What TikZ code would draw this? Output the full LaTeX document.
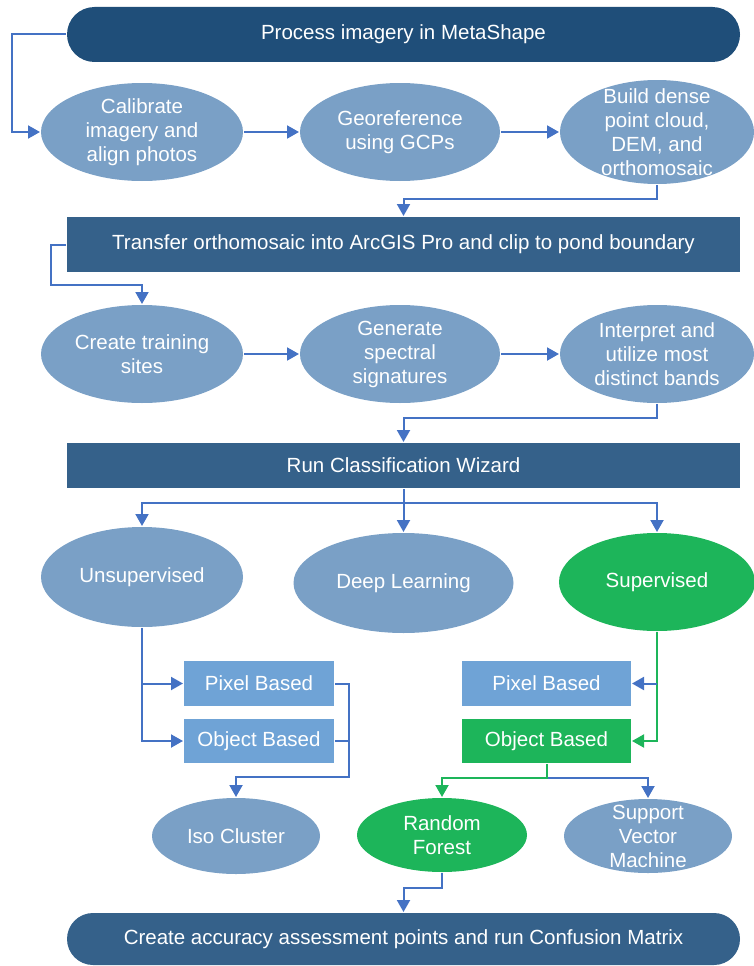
\documentclass[tikz,border=0pt]{standalone}
\usepackage{fontspec}
\setmainfont{Liberation Sans}
\usetikzlibrary{shapes.geometric,arrows.meta}

\begin{document}
\begin{tikzpicture}[x=1pt, y=-1pt,
    %Option for arrows
    >={Triangle[length=12pt,width=13pt]}, %
    line width=2pt,%
    font=\fontsize{20.5}{24}\selectfont,
    banner/.style={fill=#1, text=white, minimum width=673pt, minimum height=55pt, inner sep=0pt},
    bubble/.style={ellipse, fill=#1, text=white, align=center, inner xsep=-30pt, inner ysep=-22pt},
    bubble/.default=steel,
    tile/.style={fill=#1, text=white, minimum width=150pt, minimum height=45pt, inner sep=0pt},
    tile/.default=sky,
    link/.style={->, draw=linkblue},
    glink/.style={->, draw=leaf},
]
    % Colors
    \definecolor{navy}{HTML}{1F4E79}
    \definecolor{slate}{HTML}{35618A}
    \definecolor{steel}{HTML}{7AA0C6}
    \definecolor{sky}{HTML}{6FA3D6}
    \definecolor{leaf}{HTML}{1DB55A}
    \definecolor{linkblue}{HTML}{4472C4}

    % Frame
    \useasboundingbox (0,0) rectangle (754,966);

    % MetaShape
    \node[banner=navy, rounded corners=27.5pt] (meta) at (403.5,34.5) {Process imagery in MetaShape};
    \node[bubble, minimum width=202pt, minimum height=98pt] (calib) at (142,132) {Calibrate\\imagery and\\align photos};
    \node[bubble, minimum width=200pt, minimum height=98pt] (georef) at (400,132) {Georeference\\using GCPs};
    \node[bubble, minimum width=194pt, minimum height=104pt] (dense) at (657,132) {Build dense\\point cloud,\\DEM, and\\orthomosaic};

    % ArcGIS Pro
    \node[banner=slate] (transfer) at (403.5,244.5) {Transfer orthomosaic into ArcGIS Pro and clip to pond boundary};
    \node[bubble, minimum width=202pt, minimum height=98pt] (sites) at (142,354) {Create training\\sites};
    \node[bubble, minimum width=200pt, minimum height=98pt] (signat) at (400,354) {Generate\\spectral\\signatures};
    \node[bubble, minimum width=194pt, minimum height=98pt] (bands) at (657,354) {Interpret and\\utilize most\\distinct bands};

    % Classification
    \node[banner=slate, minimum height=45pt] (wizard) at (403.5,465.5) {Run Classification Wizard};
    \node[bubble, minimum width=202pt, minimum height=100pt] (unsup) at (142,577) {Unsupervised};
    \node[bubble, minimum width=220pt, minimum height=100pt] (deep) at (403.5,583) {Deep Learning};
    \node[bubble=leaf, minimum width=196pt, minimum height=98pt] (superv) at (657,582) {Supervised};

    \node[tile] (pixL) at (259,683.5) {Pixel Based};
    \node[tile, minimum height=44pt] (objL) at (259,741) {Object Based};
    \node[tile, minimum width=169pt] (pixR) at (546.5,683.5) {Pixel Based};
    \node[tile=leaf, minimum width=169pt, minimum height=44pt] (objR) at (546.5,741) {Object Based};

    \node[bubble, minimum width=168pt, minimum height=76pt] (iso) at (236,836) {Iso Cluster};
    \node[bubble=leaf, minimum width=170pt, minimum height=74pt] (forest) at (442,835) {Random\\Forest};
    \node[bubble, minimum width=168pt, minimum height=74pt] (svm) at (648,836) {Support\\Vector\\Machine};

    % Accuracy
    \node[banner=slate, rounded corners=26pt, minimum height=52pt] (final) at (403.5,939) {Create accuracy assessment points and run Confusion Matrix};

    % Flow
    \draw[link] (meta.west) -- ++(-54,0) |- (calib.west);
    \foreach \a/\b in {calib/georef, georef/dense, sites/signat, signat/bands}
        \draw[link] (\a) -- (\b);
    \draw[link] (dense.south) -- ++(0,14) -| (transfer.north);
    \draw[link] (transfer.west) -- ++(-15,0) -- ++(0,40.5) -| (sites.north);
    \draw[link] (bands.south) -- ++(0,14) -| (wizard.north);
    \foreach \n in {unsup, superv}
        \draw[link] (wizard.south) -- ++(0,14) -| (\n.north);
    \draw[link] (wizard.south) -- (deep.north);

    %Unsupervised branch
    \foreach \n in {pixL, objL}
        \draw[link] (unsup.south) |- (\n.west);
    \coordinate (isoturn) at (349,777);
    \draw[link] (pixL.east) -| (isoturn) -| (iso.north);
    \draw[link, -] (objL.east) -- (objL.east -| isoturn);

    %Supervised branch
    \draw[glink] (superv.south) |- (objR.east);
    \draw[link] (pixR.east -| superv.south) -- (pixR.east);
    \draw[link] (objR.south) -- ++(0,14) -| (svm.north);
    \draw[glink] (objR.south) -- ++(0,14) -| (forest.north);
    \draw[link] (forest.south) -- ++(0,15) -| (final.north);
\end{tikzpicture}
\end{document}
